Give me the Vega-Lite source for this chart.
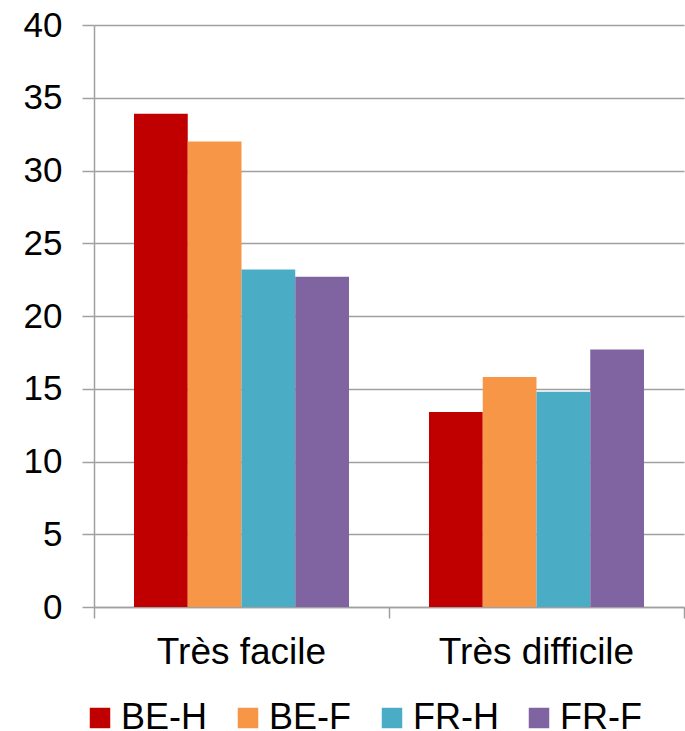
{
  "$schema": "https://vega.github.io/schema/vega-lite/v6.json",
  "width": 590,
  "height": 582,
  "autosize": {"type": "none"},
  "padding": {"left": 94, "top": 25, "right": 1, "bottom": 124},
  "background": "white",
  "config": {
    "font": "Liberation Sans",
    "view": {"stroke": null},
    "axis": {"labelFont": "Liberation Sans", "labelFontSize": 35, "labelColor": "#000000", "labelLimit": 0, "domainColor": "#a0a0a0", "tickColor": "#a0a0a0", "domainWidth": 1.5, "tickWidth": 1.5, "gridColor": "#a0a0a0", "gridWidth": 1.5}
  },
  "data": {
    "values": [
      {"categorie": "Très facile", "groupe": "BE-H", "valeur": 33.9},
      {"categorie": "Très facile", "groupe": "BE-F", "valeur": 32.0},
      {"categorie": "Très facile", "groupe": "FR-H", "valeur": 23.2},
      {"categorie": "Très facile", "groupe": "FR-F", "valeur": 22.7},
      {"categorie": "Très difficile", "groupe": "BE-H", "valeur": 13.4},
      {"categorie": "Très difficile", "groupe": "BE-F", "valeur": 15.8},
      {"categorie": "Très difficile", "groupe": "FR-H", "valeur": 14.8},
      {"categorie": "Très difficile", "groupe": "FR-F", "valeur": 17.7}
    ]
  },
  "mark": {"type": "bar"},
  "encoding": {
    "x": {
      "field": "categorie",
      "type": "nominal",
      "sort": ["Très facile", "Très difficile"],
      "scale": {"paddingInner": 0, "paddingOuter": 0},
      "axis": {"title": null, "labelAngle": 0, "labelFontSize": 37, "bandPosition": 1, "tickExtra": true, "tickSize": 11, "labelPadding": 16, "grid": false, "labelBaseline": "top"}
    },
    "xOffset": {
      "field": "groupe",
      "sort": ["BE-H", "BE-F", "FR-H", "FR-F"],
      "scale": {"paddingInner": 0, "paddingOuter": 0.744}
    },
    "y": {
      "field": "valeur",
      "type": "quantitative",
      "scale": {"domain": [0, 40], "nice": false},
      "axis": {"title": null, "values": [0, 5, 10, 15, 20, 25, 30, 35, 40], "tickSize": 12, "labelPadding": 20, "grid": true}
    },
    "color": {
      "field": "groupe",
      "type": "nominal",
      "sort": ["BE-H", "BE-F", "FR-H", "FR-F"],
      "scale": {"domain": ["BE-H", "BE-F", "FR-H", "FR-F"], "range": ["#C00000", "#F79646", "#4BACC6", "#8064A2"]},
      "legend": {
        "title": null,
        "orient": "none",
        "legendX": -12,
        "legendY": 675,
        "direction": "horizontal",
        "symbolType": "square",
        "symbolSize": 420,
        "symbolStrokeWidth": 0,
        "labelFont": "Liberation Sans",
        "labelFontSize": 36,
        "labelColor": "#000000",
        "labelOffset": 3,
        "labelLimit": 0,
        "columnPadding": 22
      }
    }
  }
}
